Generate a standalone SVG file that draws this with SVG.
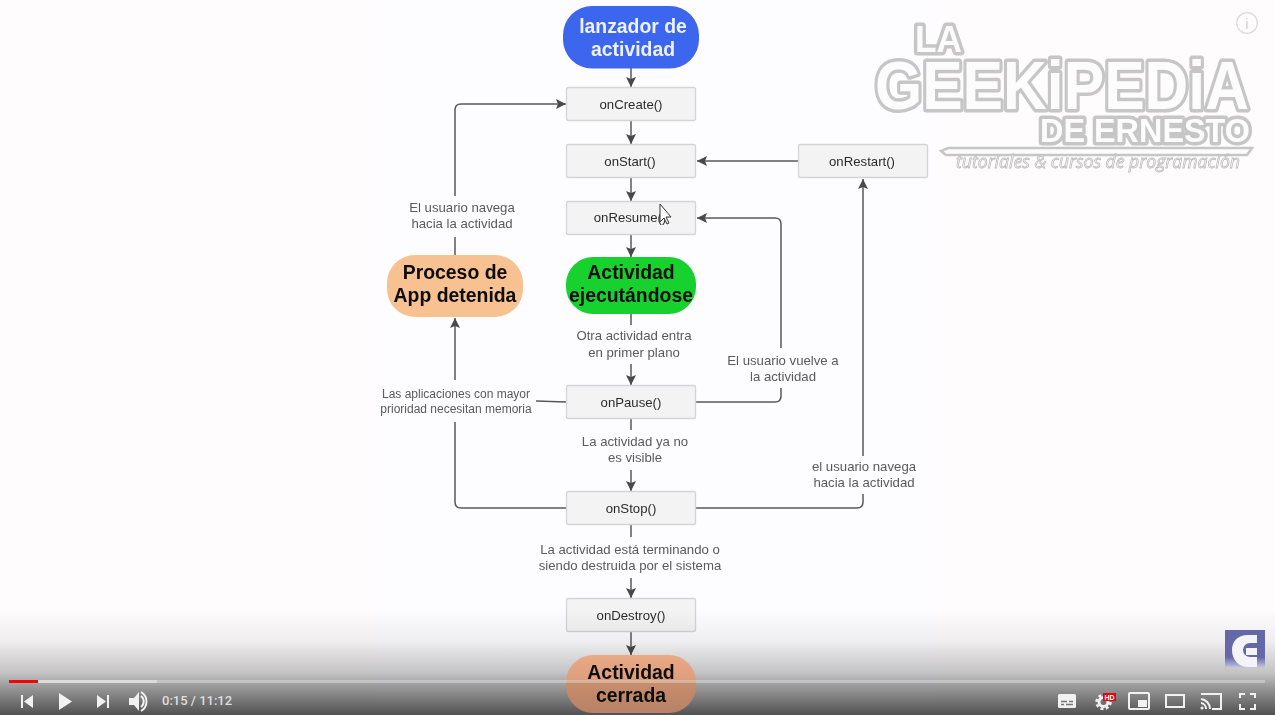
<svg xmlns="http://www.w3.org/2000/svg" width="1275" height="715" viewBox="0 0 1275 715">
<style>
text{font-family:"Liberation Sans",Arial,sans-serif}
.box{fill:#f3f3f4;stroke:#d4d4d6;stroke-width:1.3}
.bt{font-size:13.2px;fill:#2c2c2c;text-anchor:middle}
.term{stroke:none}
.tt{font-size:19.4px;font-weight:bold;text-anchor:middle;fill:#0c0c0c}
.lbl{font-size:13.2px;fill:#5a5a5a;text-anchor:middle}
.sm{font-size:12px;fill:#5a5a5a;text-anchor:middle}
.c{fill:none;stroke:#595959;stroke-width:1.5}
.logo{font-weight:bold;fill:#fdfcfd;stroke:#c6c6c6;stroke-width:7;stroke-linejoin:round;paint-order:stroke}
.ic{fill:#f1f1f1}
.ics{fill:none;stroke:#f1f1f1;stroke-width:2}
</style>
<defs>
<marker id="a" markerUnits="userSpaceOnUse" markerWidth="11" markerHeight="10" refX="10" refY="5" orient="auto"><path d="M0 0L10 5L0 10L2 5Z" fill="#484848"/></marker>
<linearGradient id="sh" x1="0" y1="0" x2="0" y2="1"><stop offset="0" stop-color="#000" stop-opacity="0"/><stop offset=".3" stop-color="#000" stop-opacity=".06"/><stop offset=".6" stop-color="#000" stop-opacity=".23"/><stop offset=".72" stop-color="#000" stop-opacity=".38"/><stop offset="1" stop-color="#000" stop-opacity=".68"/></linearGradient>
<linearGradient id="g" x1="0" y1="0" x2="0" y2="1"><stop offset="0" stop-color="#6568a8"/><stop offset=".72" stop-color="#6568a8"/><stop offset="1" stop-color="#c5cbe0"/></linearGradient>
<linearGradient id="ce" x1="0" y1="0" x2="0" y2="1"><stop offset="0" stop-color="#eba985"/><stop offset=".42" stop-color="#dc9e7c"/><stop offset=".45" stop-color="#c78e6e"/><stop offset="1" stop-color="#b88165"/></linearGradient>
<filter id="soft" x="0" y="0" width="100%" height="100%"><feGaussianBlur stdDeviation=".4"/></filter>
</defs>
<rect width="1275" height="715" fill="#fefcfd"/>
<rect x="375" width="560" height="715" fill="#fdfdff"/>

<g filter="url(#soft)">
<g id="connectors">
<path class="c" d="M631 68V87" marker-end="url(#a)"/>
<path class="c" d="M631 121V144" marker-end="url(#a)"/>
<path class="c" d="M631 178V201" marker-end="url(#a)"/>
<path class="c" d="M631 234V257" marker-end="url(#a)"/>
<path class="c" d="M631 314V325M631 364V385" marker-end="url(#a)"/>
<path class="c" d="M631 419V430M631 470V491" marker-end="url(#a)"/>
<path class="c" d="M631 525V537M631 578V598" marker-end="url(#a)"/>
<path class="c" d="M631 632V655" marker-end="url(#a)"/>
<path class="c" d="M798 161H697" marker-end="url(#a)"/>
<path class="c" d="M696 402H775Q781 402 781 396V388M781 348V224Q781 218 775 218H697" marker-end="url(#a)"/>
<path class="c" d="M696 508H857Q863 508 863 502V494M863 456V179" marker-end="url(#a)"/>
<path class="c" d="M566 508H461Q455 508 455 502V422M455 380V318" marker-end="url(#a)"/>
<path class="c" d="M566 402L536 401"/>
<path class="c" d="M455 255V237M455 196V110Q455 104 461 104H566" marker-end="url(#a)"/>
</g>

<g id="lanzador"><rect class="term" x="563" y="6" width="136" height="62.500" rx="29" fill="#3d66ee"/><text class="tt" x="633" y="33" style="fill:#eef2ff">lanzador de</text><text class="tt" x="633" y="56" style="fill:#eef2ff">actividad</text></g>
<g id="onCreate"><rect class="box" x="566.500" y="87.500" width="129" height="33" rx="2"/><text class="bt" x="631" y="109">onCreate()</text></g>
<g id="onStart"><rect class="box" x="566.500" y="144.500" width="129" height="33" rx="2"/><text class="bt" x="630" y="166">onStart()</text></g>
<g id="onResume"><rect class="box" x="566.500" y="201.500" width="129" height="33" rx="2"/><text class="bt" x="630" y="222">onResume()</text></g>
<g id="onRestart"><rect class="box" x="798.500" y="144.500" width="129" height="33" rx="2"/><text class="bt" x="862" y="166">onRestart()</text></g>
<g id="ejecutandose"><rect class="term" x="566" y="257" width="130" height="57" rx="27" fill="#17d12f"/><text class="tt" x="631" y="279">Actividad</text><text class="tt" x="631" y="302">ejecutándose</text></g>
<g id="proceso"><rect class="term" x="387" y="255" width="136" height="62" rx="28" fill="#f7c192"/><text class="tt" x="455" y="279">Proceso de</text><text class="tt" x="455" y="302">App detenida</text></g>
<g id="onPause"><rect class="box" x="566.500" y="385.500" width="129" height="33" rx="2"/><text class="bt" x="631" y="407">onPause()</text></g>
<g id="onStop"><rect class="box" x="566.500" y="491.500" width="129" height="33" rx="2"/><text class="bt" x="631" y="513">onStop()</text></g>
<g id="onDestroy"><rect class="box" x="566.500" y="598.500" width="129" height="33" rx="2"/><text class="bt" x="631" y="620">onDestroy()</text></g>

<g id="labels">
<text class="lbl" x="462" y="212">El usuario navega</text><text class="lbl" x="462" y="228">hacia la actividad</text>
<text class="lbl" x="634" y="340">Otra actividad entra</text><text class="lbl" x="634" y="357">en primer plano</text>
<text class="lbl" x="783" y="365">El usuario vuelve a</text><text class="lbl" x="783" y="381">la actividad</text>
<text class="sm" x="456" y="398">Las aplicaciones con mayor</text><text class="sm" x="456" y="413">prioridad necesitan memoria</text>
<text class="lbl" x="635" y="446">La actividad ya no</text><text class="lbl" x="635" y="462">es visible</text>
<text class="lbl" x="864" y="471">el usuario navega</text><text class="lbl" x="864" y="487">hacia la actividad</text>
<text class="lbl" x="630" y="554">La actividad está terminando o</text><text class="lbl" x="630" y="570">siendo destruida por el sistema</text>
</g>

<g id="cursor"><path d="M660 204V222L664 218L667 224L669 223L666 217H671Z" fill="#fff" stroke="#333" stroke-width="1"/></g>

<g id="logo">
<text class="logo" x="915" y="52" font-size="36" textLength="47" lengthAdjust="spacingAndGlyphs">LA</text>
<text class="logo" x="875" y="109" font-size="68" textLength="374" lengthAdjust="spacingAndGlyphs">GEEKiPEDiA</text>
<text class="logo" x="1040" y="142" font-size="33" textLength="210" lengthAdjust="spacingAndGlyphs">DE ERNESTO</text>
<path d="M948 148H1252L1247 155H946L941 151Z" fill="#fdfcfd" stroke="#c6c6c6" stroke-width="2.500"/>
<text x="956" y="168" font-size="18" font-style="italic" textLength="284" lengthAdjust="spacingAndGlyphs" fill="#fdfcfd" stroke="#bcbcbc" stroke-width=".8" style="font-family:'Open Sans',sans-serif">tutoriales &amp; cursos de programación</text>
</g>
<g id="info"><circle cx="1247" cy="23" r="10.300" fill="none" stroke="#dcdcdc" stroke-width="1.300"/><text x="1247" y="29" font-size="15" text-anchor="middle" fill="#d4d4d4">i</text></g>
</g>

<rect id="shade" y="610" width="1275" height="105" fill="url(#sh)"/>

<g id="cerrada" filter="url(#soft)"><rect class="term" x="566" y="655" width="130" height="58" rx="27" fill="url(#ce)"/><text class="tt" x="631" y="679">Actividad</text><text class="tt" x="631" y="702">cerrada</text></g>

<g id="brand"><rect x="1225" y="630" width="40" height="38" fill="url(#g)"/><path d="M1257 635H1248C1237 635 1232 642 1232 650C1232 659 1238 667 1248 667H1257V657H1250A7 7 0 0 1 1250 643H1257V648H1246V655H1257Z" fill="#f3f3f8"/></g>

<g id="player">
<rect x="9" y="680" width="1256" height="3" fill="#fff" fill-opacity=".32"/>
<rect x="9" y="680" width="148" height="3" fill="#dbdbdb"/>
<rect x="9" y="680" width="29" height="3" fill="#f00"/>
<path class="ic" d="M21 695H23V708H21ZM24 701.500L33 695V708Z"/>
<path class="ic" d="M59 693L72 701.500L59 710Z"/>
<path class="ic" d="M97 695L106 701.500L97 708ZM107 695H109V708H107Z"/>
<path class="ic" d="M129 698H134L139 692V711L134 705H129Z"/>
<path class="ics" d="M141 696A7 7 0 0 1 141 707M141 692A11 11 0 0 1 141 711"/>
<text x="162" y="705" font-size="13" font-weight="500" fill="#dedede" style="font-family:Roboto,sans-serif">0:15 / 11:12</text>
<rect class="ic" x="1058" y="694" width="18" height="14" rx="1.500"/>
<path d="M1061 701.500H1067M1069 701.500H1073M1061 704.500H1064M1066 704.500H1073" stroke="#777" stroke-width="1.500"/>
<circle cx="1103.500" cy="702" r="4.500" fill="none" stroke="#f1f1f1" stroke-width="3"/>
<circle cx="1103.500" cy="702" r="7" fill="none" stroke="#f1f1f1" stroke-width="2.500" stroke-dasharray="3 2.500"/>
<rect x="1103" y="693" width="13" height="8" fill="#e60012"/>
<text x="1109.500" y="700" font-size="7" font-weight="bold" fill="#fff" text-anchor="middle">HD</text>
<rect class="ics" x="1129" y="693" width="20" height="16" rx="1"/><rect class="ic" x="1138" y="700" width="9" height="7"/>
<rect class="ics" x="1166" y="695" width="18" height="12"/>
<path class="ics" d="M1201 694H1221V709H1212"/>
<path class="ics" d="M1201 699A10 10 0 0 1 1210 709M1201 703A6 6 0 0 1 1206 709"/><circle class="ic" cx="1202" cy="708" r="1.500"/>
<path class="ics" d="M1240 698V694H1245M1250 694H1255V698M1255 704V709H1250M1245 709H1240V704"/>
</g>
</svg>
